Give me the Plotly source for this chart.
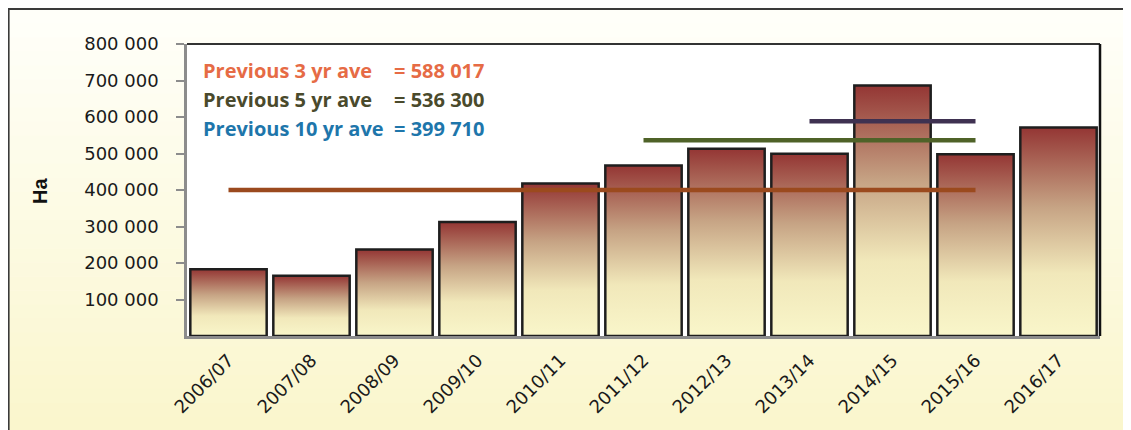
import plotly.graph_objects as go

# ---------------- data ----------------
seasons = ["2006/07", "2007/08", "2008/09", "2009/10", "2010/11", "2011/12",
           "2012/13", "2013/14", "2014/15", "2015/16", "2016/17"]
area_ha = [183000, 165000, 237000, 312000, 418000, 467000,
           513000, 499000, 686000, 498000, 571000]

avg_names = ["Previous 3 yr ave", "Previous 5 yr ave", "Previous 10 yr ave"]
avg_values = [588017, 536300, 399710]
avg_value_text = ["= 588 017", "= 536 300", "= 399 710"]
avg_from = ["2013/14", "2011/12", "2006/07"]
avg_to = ["2015/16", "2015/16", "2015/16"]

y_ticks = [100000, 200000, 300000, 400000, 500000, 600000, 700000, 800000]
y_tick_labels = ["100 000", "200 000", "300 000", "400 000",
                 "500 000", "600 000", "700 000", "800 000"]
y_title = "Ha"

# ---------------- style ----------------
OFF = 8                      # page body margin of the html page
W, H = 1131 - OFF, 430 - OFF
PLOT_X0, PLOT_X1, PLOT_Y0, PLOT_Y1 = 187, 1100, 44, 336   # in page pixels
L, T = PLOT_X0 - OFF, PLOT_Y0 - OFF
R, B = W - (PLOT_X1 - OFF), H - (PLOT_Y1 - OFF)
PW, PH = W - L - R, H - T - B

avg_line_colors = ["#3F3151", "#4F6228", "#9B4A1E"]
avg_text_colors = ["#E66B45", "#4A4A2C", "#1E76AB"]
bar_scale = [[0.0, "#F9F6CA"], [0.3, "#F1E8BA"], [0.62, "#C6A384"], [1.0, "#943634"]]


def px_x(px):
    return (px - OFF - L) / PW


def px_y(py):
    return (H - B - (py - OFF)) / PH


fig = go.Figure()

half = 0.46
for i, (s, v) in enumerate(zip(seasons, area_ha)):
    fig.add_trace(go.Scatter(
        x=[i - half, i - half, i + half, i + half, i - half],
        y=[0, v, v, 0, 0],
        mode="lines",
        fill="toself",
        fillgradient=dict(type="vertical", colorscale=bar_scale),
        line=dict(color="#1E1E1E", width=2.5),
        name=s, showlegend=False,
        hovertemplate=f"{s}: {v:,} ha<extra></extra>",
    ))

for name, val, f, t, c in zip(avg_names, avg_values, avg_from, avg_to, avg_line_colors):
    i0, i1 = seasons.index(f), seasons.index(t)
    fig.add_trace(go.Scatter(
        x=[i0, i1], y=[val, val], mode="lines",
        line=dict(color=c, width=4.5),
        name=name, showlegend=False,
    ))

shapes = []
# cream gradient background inside the outer frame
n_band = 30
top_c = (255, 255, 250)
bot_c = (250, 246, 204)
y_top_px, y_bot_px = 9, 431
for k in range(n_band):
    t0 = k / n_band
    t1 = (k + 1) / n_band
    tm = (t0 + t1) / 2
    col = tuple(round(top_c[j] + (bot_c[j] - top_c[j]) * tm) for j in range(3))
    shapes.append(dict(
        type="rect", xref="paper", yref="paper", layer="below",
        x0=px_x(8.5), x1=px_x(1140),
        y0=px_y(y_top_px + (y_bot_px - y_top_px) * t1 + 0.5),
        y1=px_y(y_top_px + (y_bot_px - y_top_px) * t0),
        line=dict(width=0), fillcolor="rgb(%d,%d,%d)" % col,
    ))
# white plot area
shapes.append(dict(type="rect", xref="paper", yref="paper", layer="below",
                   x0=0, x1=1, y0=0, y1=1, line=dict(width=0), fillcolor="white"))
# outer frame
shapes.append(dict(type="rect", xref="paper", yref="paper", layer="above",
                   x0=px_x(8.5), x1=px_x(1145), y0=px_y(445), y1=px_y(9),
                   line=dict(color="#3A3A3A", width=2.2), fillcolor="rgba(0,0,0,0)"))
# top and right plot borders
shapes.append(dict(type="line", xref="paper", yref="paper", layer="above",
                   x0=0, x1=1, y0=1, y1=1, line=dict(color="#333333", width=2)))
shapes.append(dict(type="line", xref="paper", yref="paper", layer="above",
                   x0=1, x1=1, y0=0, y1=1, line=dict(color="#111111", width=2.5)))

annotations = []
row_px = [70, 99, 128]
for name, txt, col, ry in zip(avg_names, avg_value_text, avg_text_colors, row_px):
    annotations.append(dict(
        text="<b>%s</b>" % name, xref="paper", yref="paper",
        x=px_x(201), y=px_y(ry), xanchor="left", yanchor="middle", showarrow=False,
        font=dict(family="Open Sans", size=20, color=col),
    ))
    annotations.append(dict(
        text="<b>%s</b>" % txt, xref="paper", yref="paper",
        x=px_x(392), y=px_y(ry), xanchor="left", yanchor="middle", showarrow=False,
        font=dict(family="Open Sans", size=20, color=col),
    ))
annotations.append(dict(
    text="<b>%s</b>" % y_title, xref="paper", yref="paper",
    x=px_x(40), y=px_y(191), xanchor="center", yanchor="middle", showarrow=False,
    textangle=-90, font=dict(family="Liberation Sans", size=20, color="#111111"),
))

fig.update_layout(
    width=W, height=H,
    margin=dict(l=L, r=R, t=T, b=B, autoexpand=False),
    paper_bgcolor="white",
    plot_bgcolor="white",
    showlegend=False,
    shapes=shapes,
    annotations=annotations,
    xaxis=dict(
        range=[-0.5, len(seasons) - 0.5],
        tickmode="array", tickvals=list(range(len(seasons))), ticktext=seasons,
        tickangle=-45, ticks="", showgrid=False, zeroline=False,
        ticklabelstandoff=4,
        showline=True, linecolor="#8C8C8C", linewidth=2.5,
        tickfont=dict(family="DejaVu Sans", size=18, color="#1A1A1A"),
        fixedrange=True,
    ),
    yaxis=dict(
        range=[0, 800000],
        tickmode="array", tickvals=y_ticks, ticktext=y_tick_labels,
        ticks="outside", ticklen=8, tickwidth=1.5, tickcolor="#8C8C8C",
        ticklabelstandoff=14,
        showgrid=False, zeroline=False,
        showline=True, linecolor="#8C8C8C", linewidth=2.5,
        tickfont=dict(family="DejaVu Sans", size=18, color="#1A1A1A"),
        fixedrange=True,
    ),
)

fig.write_html("out.html")
